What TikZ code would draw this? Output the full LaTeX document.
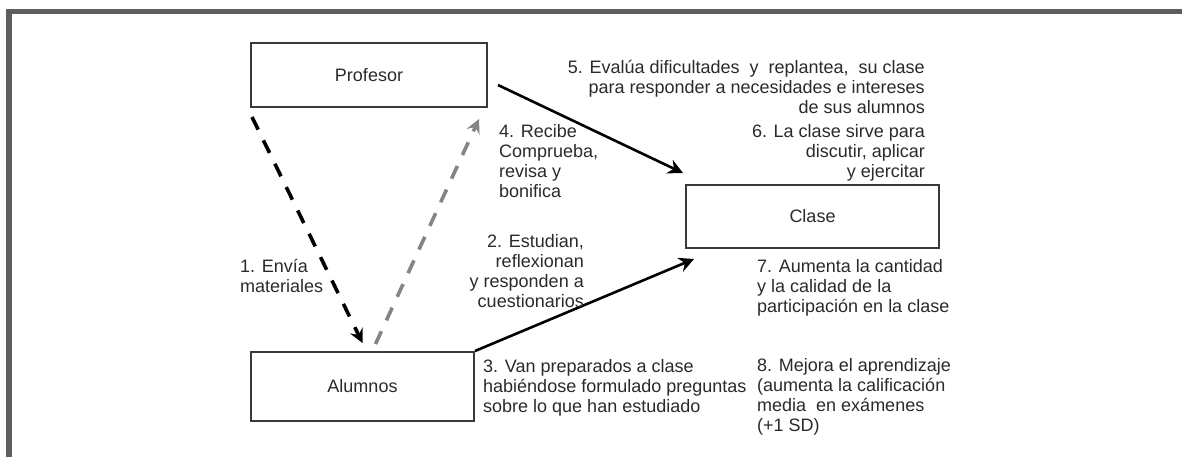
\documentclass[tikz,border=0pt]{standalone}
\usepackage{fontspec}
\setmainfont{Liberation Sans}
\usetikzlibrary{arrows.meta,calc}
\definecolor{txt}{HTML}{2A2A2A}
\definecolor{frame}{HTML}{5E5E5E}
\definecolor{boxline}{HTML}{3A3A3A}
\definecolor{greyarrow}{HTML}{858585}
\begin{document}
\begin{tikzpicture}[x=1pt,y=-1pt,
  every node/.style={font=\fontsize{18}{20}\selectfont, text=txt},
  actor/.style={draw=boxline, line width=2pt, minimum width=#1, inner sep=0pt},
  lbl/.style={inner sep=0pt},
  blackdash/.style={draw=black, line width=3.6pt, dash pattern=on 14pt off 12pt,
     -{Stealth[length=14pt,width=14pt,inset=5pt]}},
  greydash/.style={draw=greyarrow, line width=3.6pt, dash pattern=on 14pt off 12pt,
     -{Stealth[length=14pt,width=14pt,inset=5pt]}},
  solidarrow/.style={draw=black, line width=2.6pt,
     -{Stealth[length=15pt,width=15pt,inset=5pt]}}
]
\useasboundingbox (0,0) rectangle (1182,456);
\draw[frame, line width=5.5pt] (9,460) -- (9,11.5) -- (1190,11.5);

\node[actor=236pt, minimum height=64pt] (prof) at (369,75) {Profesor};
\node[actor=223pt, minimum height=69pt] (alum) at (362.5,386.5) {Alumnos};
\node[actor=253pt, minimum height=63pt] (clase) at (812.5,216.5) {Clase};

\draw[blackdash] ([shift={(2,9)}]prof.south west) -- ([shift={(0,-8)}]alum.north);
\draw[greydash] ([shift={(13,-7)}]alum.north) -- ([shift={(-9,11)}]prof.south east);
\draw[solidarrow] ([shift={(10,10)}]prof.east) -- ([shift={(-2,-11)}]clase.north west);
\draw[solidarrow] (alum.north east) -- ([shift={(9,10)}]clase.south west);

\node[lbl, anchor=north west, align=left] (t1) at (240,259) {1. Envía\\materiales};
\node[lbl, anchor=north west, align=left] (t4) at (499,124) {4. Recibe\\Comprueba,\\revisa y\\bonifica};
\node[lbl, anchor=north east, align=right] (t5) at (925,60) {5. Evalúa dificultades\ \ y\ \ replantea,\ \ su clase\\para responder a necesidades e intereses\\de sus alumnos};
\node[lbl, anchor=north east, align=right] (t6) at (925,124) {6. La clase sirve para\\discutir, aplicar\\y ejercitar};
\node[lbl, anchor=north east, align=right] (t2) at (584,234) {2. Estudian,\\reflexionan\\y responden a\\cuestionarios};
\node[lbl, anchor=north west, align=left] (t7) at (757,259) {7. Aumenta la cantidad\\y la calidad de la\\participación en la clase};
\node[lbl, anchor=north west, align=left] (t3) at (483,359) {3. Van preparados a clase\\habiéndose formulado preguntas\\sobre lo que han estudiado};
\node[lbl, anchor=north west, align=left] (t8) at (757,358) {8. Mejora el aprendizaje\\(aumenta la calificación\\media\ \ en exámenes\\(+1 SD)};
\end{tikzpicture}
\end{document}
